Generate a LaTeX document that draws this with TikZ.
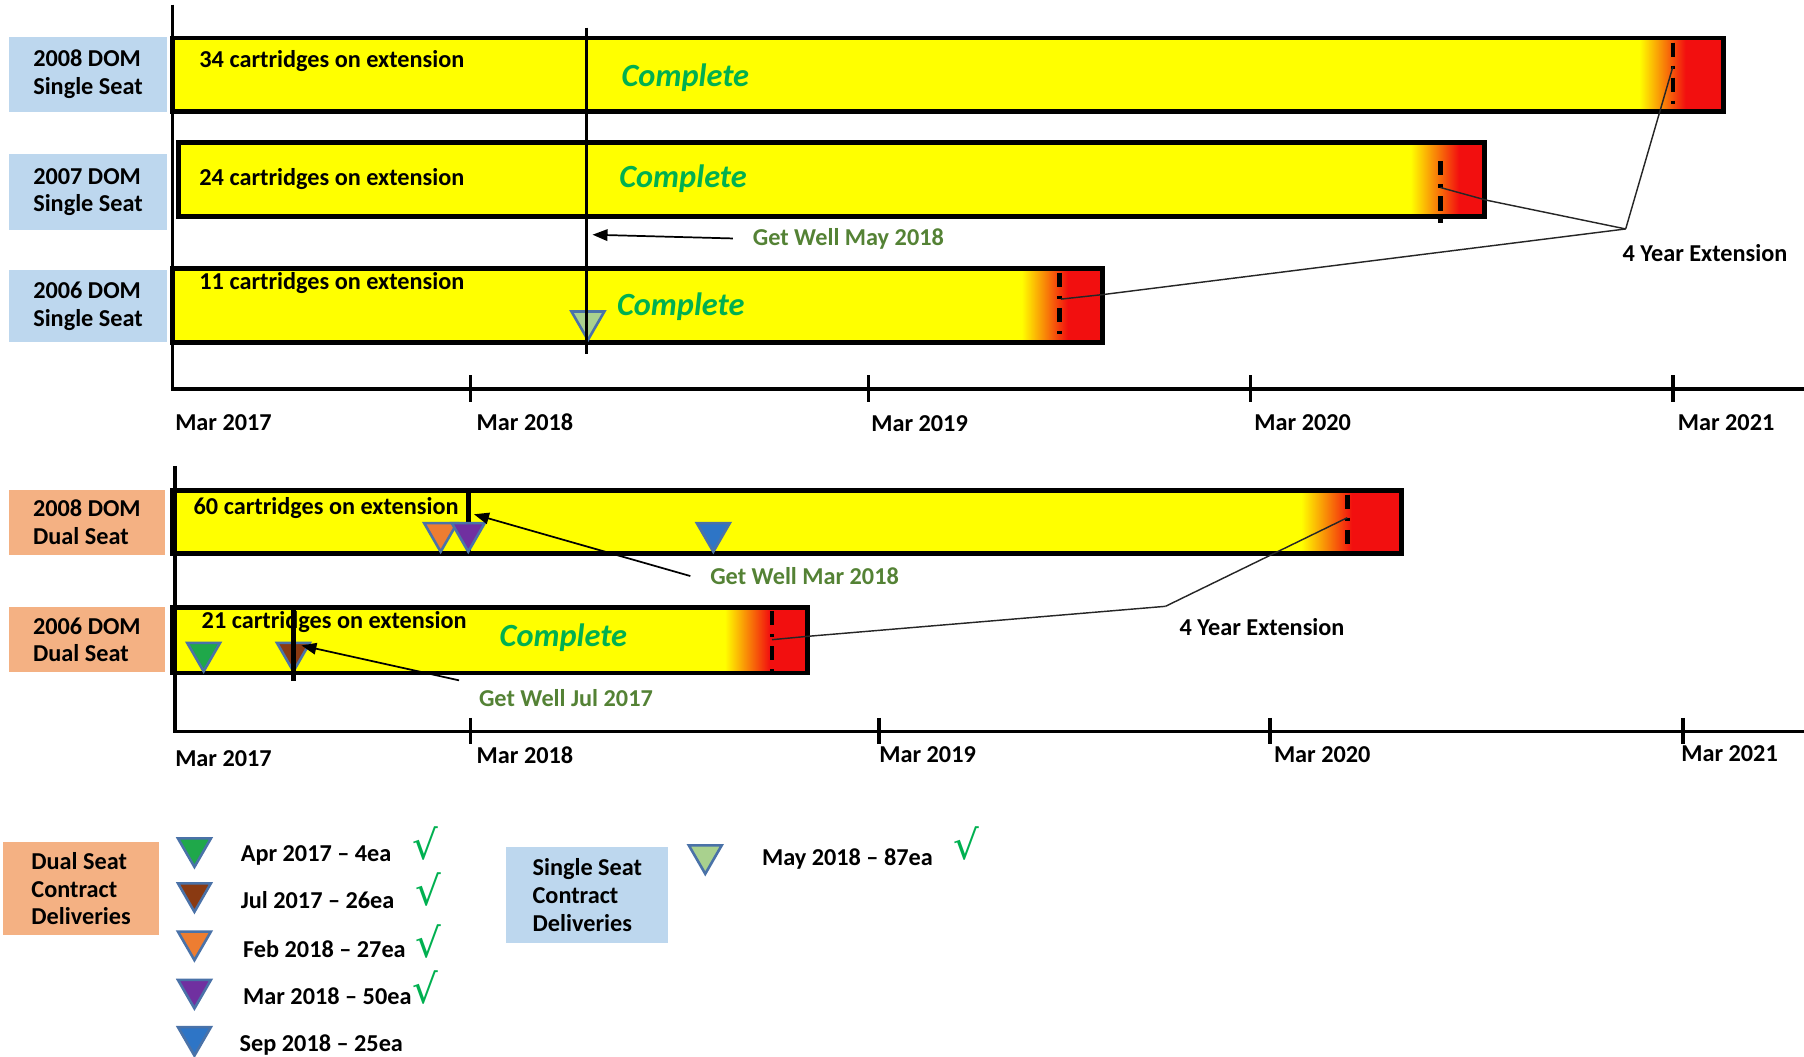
\documentclass[tikz,border=0pt]{standalone}
\usepackage{fontspec}
\setmainfont{Carlito}
\newfontfamily\checkfont{DejaVu Sans}
\usepackage{xcolor}
\usetikzlibrary{arrows.meta, shapes.geometric}

\definecolor{barYellow}{HTML}{FFFF00}
\definecolor{barRed}{HTML}{F20F0F}
\definecolor{ssBlue}{HTML}{BDD7EE}
\definecolor{dsOrange}{HTML}{F4B183}
\definecolor{doneGreen}{HTML}{00B050}
\definecolor{wellGreen}{HTML}{548235}
\definecolor{triEdge}{HTML}{4A72A8}
\definecolor{triGreen}{HTML}{1FA84A}
\definecolor{triBrown}{HTML}{8A3A12}
\definecolor{triOrange}{HTML}{ED7D31}
\definecolor{triPurple}{HTML}{7030A0}
\definecolor{triBlue}{HTML}{2E75C6}
\definecolor{triLight}{HTML}{A9D18E}

\begin{document}
\begin{tikzpicture}[x=0.2mm, y=-0.2mm]
\tikzstyle{sslabel}=[rectangle, fill=ssBlue, align=left, minimum width=27.4mm,
  font=\bfseries\fontsize{12}{13.7}\selectfont]
\tikzstyle{dslabel}=[rectangle, fill=dsOrange, align=left, minimum width=27mm,
  font=\bfseries\fontsize{12}{13.7}\selectfont]
\tikzstyle{bar}=[draw=black, line width=0.85mm]
\tikzstyle{axis}=[line width=0.6mm]
\tikzstyle{axistick}=[line width=0.6mm]
\tikzstyle{txt}=[anchor=base west, inner sep=0pt,
  font=\bfseries\fontsize{12}{14}\selectfont]
\tikzstyle{done}=[txt, text=doneGreen,
  font=\bfseries\itshape\fontsize{16}{18}\selectfont]
\tikzstyle{getwell}=[anchor=base west, inner xsep=3.4mm, inner ysep=1.5mm,
  text=wellGreen, font=\bfseries\fontsize{12}{14}\selectfont]
\tikzstyle{getline}=[line width=0.6mm]
\tikzstyle{extmark}=[line width=0.8mm,
  dash pattern=on 2.5mm off 1.5mm on 0.6mm off 1.5mm]
\tikzstyle{callout}=[line width=0.25mm, draw=black!85]
\tikzstyle{arrow}=[-{Triangle[length=2.6mm, width=2mm]}, line width=0.3mm]
\tikzstyle{delivery}=[regular polygon, regular polygon sides=3,
  shape border rotate=180, minimum size=6.6mm, inner sep=0pt,
  draw=triEdge, line width=0.45mm]
\tikzstyle{chk}=[inner sep=0pt, text=doneGreen,
  font=\checkfont\fontsize{20}{20}\selectfont]

\useasboundingbox (0,0) rectangle (1568,918);

% single seat labels
\node (lbl_ss08) [sslabel, minimum height=13mm] at (76.5,64.5) {2008 DOM\\Single Seat};
\node (lbl_ss07) [sslabel, minimum height=13.2mm] at (76.5,167) {2007 DOM\\Single Seat};
\node (lbl_ss06) [sslabel, minimum height=12.6mm] at (76.5,266) {2006 DOM\\Single Seat};

% single seat bars
\fill[barYellow] (150,33) rectangle (1425,97);
\shade[left color=barYellow, right color=barRed] (1425,33) rectangle (1465,97);
\fill[barRed] (1465,33) rectangle (1498,97);
\draw[bar] (150,33) rectangle (1498,97);

\fill[barYellow] (155,124) rectangle (1226,188);
\shade[left color=barYellow, right color=barRed] (1226,124) rectangle (1268,188);
\fill[barRed] (1268,124) rectangle (1290,188);
\draw[bar] (155,124) rectangle (1290,188);

\fill[barYellow] (150,233) rectangle (888,298);
\shade[left color=barYellow, right color=barRed] (888,233) rectangle (928,298);
\fill[barRed] (928,233) rectangle (958,298);
\draw[bar] (150,233) rectangle (958,298);

\node (cnt_ss08) [txt] at (173,59) {34 cartridges on extension};
\node (cnt_ss07) [txt] at (173,161) {24 cartridges on extension};
\node (cnt_ss06) [txt] at (173,252) {11 cartridges on extension};
\node (done_ss08) [done] at (540,75) {Complete};
\node (done_ss07) [done] at (538,163) {Complete};
\node (done_ss06) [done] at (536,274) {Complete};

\node (del_may18) [delivery, fill=triLight] at (511,279) {};
\draw[getline] (510,24) -- (510,308);

% top time axis
\draw[axis] (150,4) -- (150,338) -- (1568,338);
\draw[axistick] (409,326) -- (409,349);
\draw[axistick] (755,326) -- (755,349);
\draw[axistick] (1087,326) -- (1087,349);
\draw[axistick] (1454,326) -- (1454,349);
\node (yr_t17) [txt] at (152,374) {Mar 2017};
\node (yr_t18) [txt] at (414,374) {Mar 2018};
\node (yr_t19) [txt] at (757,375) {Mar 2019};
\node (yr_t20) [txt] at (1090,374) {Mar 2020};
\node (yr_t21) [txt] at (1458,374) {Mar 2021};

% extension marks, single seat
\draw[extmark] (1454,37) -- (1454,95);
\draw[extmark] (1252,140) -- (1252,198);
\draw[extmark] (921,237) -- (921,294);

\coordinate (dash_ss08) at (1454,58);
\coordinate (dash_ss07) at (1252,163);
\coordinate (edge_ss07) at (1292,174);
\coordinate (dash_ss06) at (922,260);
\coordinate (edge_ss06) at (959,256);
\coordinate (ext_top) at (1413,199);
\draw[callout] (ext_top) -- (dash_ss08);
\draw[callout] (ext_top) -- (edge_ss07) -- (dash_ss07);
\draw[callout] (ext_top) -- (edge_ss06) -- (dash_ss06);
\node (ext_top_txt) [txt] at (1410,227) {4 Year Extension};

\coordinate (tip_may) at (515,204);
\node (gw_may) [getwell] at (637,213) {Get Well May 2018};
\draw[arrow] (gw_may.west) -- (tip_may);

% dual seat labels
\node (lbl_ds08) [dslabel, minimum height=11.4mm] at (75.5,454) {2008 DOM\\Dual Seat};
\node (lbl_ds06) [dslabel, minimum height=11.4mm] at (75.5,556) {2006 DOM\\Dual Seat};

% dual seat bars
\fill[barYellow] (150,426) rectangle (1131,481);
\shade[left color=barYellow, right color=barRed] (1131,426) rectangle (1175,481);
\fill[barRed] (1175,426) rectangle (1218,481);
\draw[bar] (150,426) rectangle (1218,481);

\fill[barYellow] (150,528) rectangle (630,585);
\shade[left color=barYellow, right color=barRed] (630,528) rectangle (669,585);
\fill[barRed] (669,528) rectangle (702,585);
\draw[bar] (150,528) rectangle (702,585);

\node (cnt_ds08) [txt] at (168,447) {60 cartridges on extension};
\node (cnt_ds06) [txt] at (175,546) {21 cartridges on extension};
\node (done_ds06) [done] at (434,562) {Complete};

\draw[getline, line width=0.9mm] (407,426) -- (407,481);
\node (del_feb18) [delivery, fill=triOrange] at (383,463) {};
\node (del_mar18) [delivery, fill=triPurple] at (407,463) {};
\node (del_sep18) [delivery, fill=triBlue] at (620,463) {};
\node (del_apr17) [delivery, fill=triGreen] at (177,567) {};
\node (del_jul17) [delivery, fill=triBrown] at (255,567) {};
\draw[getline, line width=0.9mm] (255,527) -- (255,592);

% bottom time axis
\draw[axis] (152,405) -- (152,636) -- (1568,636);
\draw[axistick] (409,624) -- (409,647);
\draw[axistick] (764,624) -- (764,647);
\draw[axistick] (1104,624) -- (1104,647);
\draw[axistick] (1463,624) -- (1463,647);
\node (yr_b17) [txt] at (152,666) {Mar 2017};
\node (yr_b18) [txt] at (414,664) {Mar 2018};
\node (yr_b19) [txt] at (764,663) {Mar 2019};
\node (yr_b20) [txt] at (1107,663) {Mar 2020};
\node (yr_b21) [txt] at (1461,662) {Mar 2021};

% extension marks, dual seat
\draw[extmark] (1171,430) -- (1171,480);
\draw[extmark] (671,531) -- (671,583);

\coordinate (dash_ds08) at (1171,450);
\coordinate (dash_ds06) at (671,556);
\coordinate (edge_ds06) at (703,553);
\coordinate (ext_bot) at (1013,527);
\draw[callout] (ext_bot) -- (dash_ds08);
\draw[callout] (ext_bot) -- (edge_ds06) -- (dash_ds06);
\node (ext_bot_txt) [txt] at (1025,552) {4 Year Extension};

\coordinate (tip_mar) at (412,447);
\coordinate (tip_jul) at (262,561);
\node (gw_mar) [getwell] at (600,508) {Get Well Mar 2018};
\node (gw_jul) [getwell] at (399,614) {Get Well Jul 2017};
\draw[arrow] (gw_mar.west) -- (tip_mar);
\draw[arrow] (gw_jul.north west) -- (tip_jul);

% legend
\node (key_ds) [dslabel, minimum width=27mm, minimum height=16.2mm] at (70.5,772.5)
  {Dual Seat\\Contract\\Deliveries};
\node (key_apr17) [delivery, fill=triGreen] at (169,737) {};
\node (key_jul17) [delivery, fill=triBrown] at (169,776) {};
\node (key_feb18) [delivery, fill=triOrange] at (169,818) {};
\node (key_mar18) [delivery, fill=triPurple] at (169,860) {};
\node (key_sep18) [delivery, fill=triBlue] at (169,901) {};
\node (qty_apr17) [txt] at (209,749) {Apr 2017 – 4ea};
\node (qty_jul17) [txt] at (209,790) {Jul 2017 – 26ea};
\node (qty_feb18) [txt] at (211,832) {Feb 2018 – 27ea};
\node (qty_mar18) [txt] at (211,873) {Mar 2018 – 50ea};
\node (qty_sep18) [txt] at (208,914) {Sep 2018 – 25ea};
\node (ok_apr17) [chk] at (370,733) {√};
\node (ok_jul17) [chk] at (372,773) {√};
\node (ok_feb18) [chk] at (372,818) {√};
\node (ok_mar18) [chk] at (370,858) {√};

\node (key_ss) [sslabel, minimum width=28.2mm, minimum height=16.8mm] at (510.5,778)
  {Single Seat\\Contract\\Deliveries};
\node (key_may18) [delivery, fill=triLight] at (613,743) {};
\node (qty_may18) [txt] at (662,752) {May 2018 – 87ea};
\node (ok_may18) [chk] at (840,733) {√};
\end{tikzpicture}
\end{document}
